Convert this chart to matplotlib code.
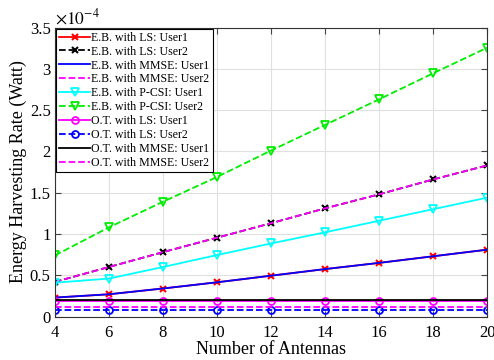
import numpy as np
import matplotlib.pyplot as plt

plt.rcParams['font.family'] = ['Liberation Serif', 'DejaVu Serif']
plt.rcParams['mathtext.fontset'] = 'stix'

antennas = [4, 6, 8, 10, 12, 14, 16, 18, 20]

# values in units of 1e-4 Watt
eb_ls_u1 = [0.23, 0.27, 0.34, 0.415, 0.495, 0.575, 0.65, 0.73, 0.81]
eb_ls_u2 = [0.42, 0.60, 0.78, 0.955, 1.13, 1.31, 1.48, 1.66, 1.83]
eb_mmse_u1 = [0.23, 0.27, 0.34, 0.415, 0.495, 0.575, 0.65, 0.73, 0.81]
eb_mmse_u2 = [0.42, 0.60, 0.78, 0.955, 1.13, 1.31, 1.48, 1.66, 1.83]
eb_pcsi_u1 = [0.41, 0.46, 0.60, 0.745, 0.885, 1.02, 1.16, 1.30, 1.44]
eb_pcsi_u2 = [0.74, 1.08, 1.39, 1.69, 2.01, 2.32, 2.63, 2.945, 3.255]
ot_ls_u1 = [0.185] * 9
ot_ls_u2 = [0.076] * 9
ot_mmse_u1 = [0.205] * 9
ot_mmse_u2 = [0.11] * 9

fig = plt.figure(figsize=(4.94, 3.6), dpi=100)
ax = fig.add_axes([0.111, 0.1206, 0.875, 0.803])

lw = 1.3
ax.plot(antennas, eb_ls_u1, '-', color='red', marker='x', ms=4, mew=1.5, lw=lw, label='E.B. with LS: User1')
ax.plot(antennas, eb_ls_u2, '--', color='black', marker='x', ms=4, mew=1.5, lw=lw, label='E.B. with LS: User2')
ax.plot(antennas, eb_mmse_u1, '-', color='blue', lw=lw, label='E.B. with MMSE: User1')
ax.plot(antennas, eb_mmse_u2, '--', color='magenta', lw=lw, label='E.B. with MMSE: User2')
ax.plot(antennas, eb_pcsi_u1, '-', color='cyan', marker='v', ms=6, mfc='none', mew=1.3, lw=lw, label='E.B. with P-CSI: User1')
ax.plot(antennas, eb_pcsi_u2, '--', color='#00ee00', marker='v', ms=6, mfc='none', mew=1.3, lw=lw, label='E.B. with P-CSI: User2')
ax.plot(antennas, ot_ls_u1, '-', color='magenta', marker='o', ms=5, mfc='none', mew=1.3, lw=lw, label='O.T. with LS: User1')
ax.plot(antennas, ot_ls_u2, '--', color='blue', marker='o', ms=5, mfc='none', mew=1.3, lw=lw, label='O.T. with LS: User2')
ax.plot(antennas, ot_mmse_u1, '-', color='black', lw=lw, label='O.T. with MMSE: User1')
ax.plot(antennas, ot_mmse_u2, '--', color='magenta', lw=lw, label='O.T. with MMSE: User2')

ax.set_xlim(4, 20)
ax.set_ylim(0, 3.5)
ax.set_xticks(antennas)
ax.set_yticks(np.arange(0, 3.51, 0.5))
ax.set_yticklabels(['0', '0.5', '1', '1.5', '2', '2.5', '3', '3.5'])
ax.tick_params(direction='in', labelsize=12, top=True, right=True, length=4, color='#444444')
ax.tick_params(axis='x', pad=6)
ax.tick_params(axis='y', pad=3)
ax.grid(True, color='#e0e0e0', lw=0.8)
ax.set_axisbelow(True)
for s in ax.spines.values():
    s.set_color('#333333')
    s.set_linewidth(0.8)

ax.set_xlabel('Number of Antennas', fontsize=13, labelpad=0)
ax.set_ylabel('Energy Harvesting Rate (Watt)', fontsize=13, labelpad=2)
ax.text(0.0, 1.0, r'$\times 10^{-4}$', transform=ax.transAxes, fontsize=12.5, va='bottom', ha='left')

leg = ax.legend(loc='upper left', fontsize=8.6, handlelength=2.6, handletextpad=0.1,
                borderpad=0.25, labelspacing=0.16, fancybox=False, edgecolor='black',
                framealpha=1, borderaxespad=0.1)
leg.get_frame().set_linewidth(0.8)

fig.savefig('out.png', dpi=100)
